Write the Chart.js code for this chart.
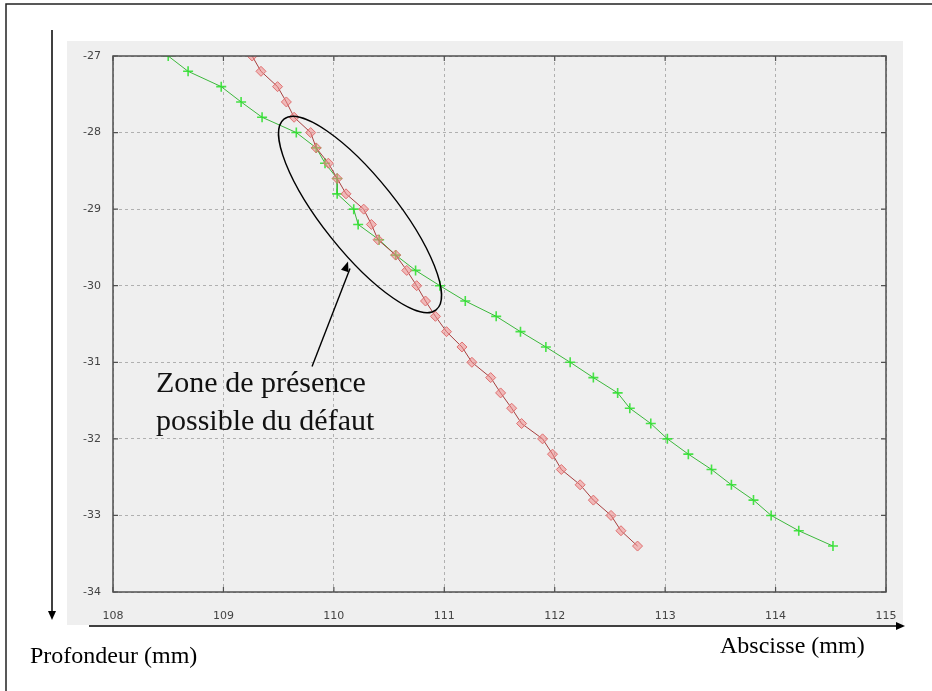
<!DOCTYPE html>
<html>
<head>
<meta charset="utf-8">
<script src="https://cdn.jsdelivr.net/npm/chart.js@4"></script>
<style>
  html, body { margin: 0; padding: 0; background: #ffffff; }
  #wrap { position: relative; width: 932px; height: 691px; }
  canvas { display: block; }
</style>
</head>
<body>
<div id="wrap"><canvas id="c" width="932" height="691"></canvas></div>
<script>
// Depth of each measurement (mm)
const depths = [-27, -27.2, -27.4, -27.6, -27.8, -28, -28.2, -28.4, -28.6, -28.8,
                -29, -29.2, -29.4, -29.6, -29.8, -30, -30.2, -30.4, -30.6, -30.8,
                -31, -31.2, -31.4, -31.6, -31.8, -32, -32.2, -32.4, -32.6, -32.8,
                -33, -33.2, -33.4];

// Abscissa of the red profile (mm)
const redX = [109.26, 109.34, 109.49, 109.57, 109.64, 109.79, 109.84, 109.95, 110.03, 110.11,
              110.27, 110.34, 110.40, 110.56, 110.66, 110.75, 110.83, 110.92, 111.02, 111.16,
              111.25, 111.42, 111.51, 111.61, 111.70, 111.89, 111.98, 112.06, 112.23, 112.35,
              112.51, 112.60, 112.75];

// Abscissa of the green profile (mm)
const greenX = [108.50, 108.68, 108.98, 109.16, 109.35, 109.66, 109.84, 109.92, 110.03, 110.03,
                110.18, 110.22, 110.41, 110.56, 110.74, 110.96, 111.19, 111.47, 111.69, 111.92,
                112.14, 112.35, 112.57, 112.68, 112.87, 113.02, 113.21, 113.42, 113.60, 113.80,
                113.96, 114.21, 114.52];

// Axis ranges and tick labels
const xTicks = [108, 109, 110, 111, 112, 113, 114, 115];
const yTicks = [-27, -28, -29, -30, -31, -32, -33, -34];

// Annotation: zone where the defect may lie
const zoneCenter = { x: 110.237, y: -29.07 };
const zoneLines = ['Zone de présence', 'possible du défaut'];
const xTitle = 'Abscisse (mm)';
const yTitle = 'Profondeur (mm)';

const toPoints = xs => xs.map((x, i) => ({ x: x, y: depths[i] }));

function arrowHead(ctx, x0, y0, x1, y1, len, half) {
  const a = Math.atan2(y1 - y0, x1 - x0);
  ctx.beginPath();
  ctx.moveTo(x1, y1);
  ctx.lineTo(x1 - len * Math.cos(a) + half * Math.sin(a), y1 - len * Math.sin(a) - half * Math.cos(a));
  ctx.lineTo(x1 - len * Math.cos(a) - half * Math.sin(a), y1 - len * Math.sin(a) + half * Math.cos(a));
  ctx.closePath();
  ctx.fill();
}

const decor = {
  id: 'decor',
  beforeDraw(chart) {
    const ctx = chart.ctx, ca = chart.chartArea;
    ctx.save();
    // grey panel behind the plot
    ctx.fillStyle = '#efefef';
    ctx.fillRect(ca.left - 46, ca.top - 15, (ca.right + 17) - (ca.left - 46), (ca.bottom + 33) - (ca.top - 15));
    // page frame
    ctx.strokeStyle = '#222';
    ctx.lineWidth = 1.5;
    ctx.beginPath();
    ctx.moveTo(6, 691);
    ctx.lineTo(6, 4);
    ctx.lineTo(932, 4);
    ctx.stroke();
    ctx.restore();
  },
  afterDraw(chart) {
    const ctx = chart.ctx, ca = chart.chartArea;
    const xs = chart.scales.x, ys = chart.scales.y;
    ctx.save();
    // plot frame
    ctx.strokeStyle = '#505050';
    ctx.lineWidth = 1.5;
    ctx.strokeRect(ca.left, ca.top, ca.right - ca.left, ca.bottom - ca.top);
    // inward tick marks on all four sides
    ctx.lineWidth = 1.2;
    ctx.beginPath();
    xTicks.forEach(v => {
      const px = xs.getPixelForValue(v);
      ctx.moveTo(px, ca.bottom); ctx.lineTo(px, ca.bottom - 5);
      ctx.moveTo(px, ca.top); ctx.lineTo(px, ca.top + 5);
    });
    yTicks.forEach(v => {
      const py = ys.getPixelForValue(v);
      ctx.moveTo(ca.left, py); ctx.lineTo(ca.left + 5, py);
      ctx.moveTo(ca.right, py); ctx.lineTo(ca.right - 5, py);
    });
    ctx.stroke();

    // axis arrows
    ctx.strokeStyle = '#000';
    ctx.fillStyle = '#000';
    ctx.lineWidth = 1.5;
    const vx = ca.left - 61, vTop = ca.top - 26, vBot = ca.bottom + 28;
    ctx.beginPath(); ctx.moveTo(vx, vTop); ctx.lineTo(vx, vBot - 6); ctx.stroke();
    arrowHead(ctx, vx, vTop, vx, vBot, 9, 4);
    const hy = ca.bottom + 34, hL = ca.left - 24, hR = ca.right + 19;
    ctx.beginPath(); ctx.moveTo(hL, hy); ctx.lineTo(hR - 6, hy); ctx.stroke();
    arrowHead(ctx, hL, hy, hR, hy, 9, 4);

    // axis titles
    ctx.font = '24px "Liberation Serif", "Times New Roman", serif';
    ctx.textBaseline = 'middle';
    ctx.textAlign = 'left';
    ctx.fillText(yTitle, 30, ca.bottom + 65);
    ctx.fillText(xTitle, 720, ca.bottom + 55);

    // ellipse around the zone
    const cx = xs.getPixelForValue(zoneCenter.x), cy = ys.getPixelForValue(zoneCenter.y);
    ctx.lineWidth = 1.4;
    ctx.beginPath();
    ctx.ellipse(cx, cy, 122, 37, 51.4 * Math.PI / 180, 0, Math.PI * 2);
    ctx.stroke();

    // pointer from the label to the ellipse
    const p0 = { x: cx - 48, y: cy + 152 }, p1 = { x: cx - 12, y: cy + 47 };
    ctx.beginPath(); ctx.moveTo(p0.x, p0.y); ctx.lineTo(p1.x + 2, p1.y + 7); ctx.stroke();
    arrowHead(ctx, p0.x, p0.y, p1.x, p1.y, 10, 4);

    // label of the zone
    ctx.font = '30px "Liberation Serif", "Times New Roman", serif';
    ctx.fillStyle = '#111';
    ctx.fillText(zoneLines[0], 156, cy + 170);
    ctx.fillText(zoneLines[1], 156, cy + 208);
    ctx.restore();
  }
};

new Chart(document.getElementById('c'), {
  type: 'scatter',
  data: {
    datasets: [
      {
        data: toPoints(redX),
        showLine: true,
        borderColor: '#a84040',
        borderWidth: 1,
        pointStyle: 'rectRot',
        pointRadius: 5,
        pointBackgroundColor: 'rgba(240,140,140,0.55)',
        pointBorderColor: '#e07070',
        pointBorderWidth: 1
      },
      {
        data: toPoints(greenX),
        showLine: true,
        borderColor: '#3cb83c',
        borderWidth: 1,
        pointStyle: 'cross',
        pointRadius: 5,
        pointBorderColor: 'rgba(40,225,40,0.85)',
        pointBorderWidth: 1.6
      }
    ]
  },
  options: {
    responsive: false,
    animation: false,
    devicePixelRatio: 1,
    events: [],
    layout: { padding: { left: 67, right: 46, top: 56, bottom: 65 } },
    plugins: { legend: { display: false }, tooltip: { enabled: false } },
    scales: {
      x: {
        type: 'linear',
        min: xTicks[0],
        max: xTicks[xTicks.length - 1],
        afterFit: s => { s.height = 34; },
        afterBuildTicks: s => { s.ticks = xTicks.map(v => ({ value: v })); },
        ticks: { padding: 18, color: '#444', font: { family: '"DejaVu Sans", sans-serif', size: 11 } },
        grid: { color: '#b0b0b0', drawTicks: false, lineWidth: 1 },
        border: { display: false, dash: [3, 3] }
      },
      y: {
        type: 'linear',
        min: yTicks[yTicks.length - 1],
        max: yTicks[0],
        afterFit: s => { s.width = 46; },
        afterBuildTicks: s => { s.ticks = yTicks.slice().reverse().map(v => ({ value: v })); },
        ticks: { padding: 12, color: '#444', font: { family: '"DejaVu Sans", sans-serif', size: 11 } },
        grid: { color: '#b0b0b0', drawTicks: false, lineWidth: 1 },
        border: { display: false, dash: [3, 3] }
      }
    }
  },
  plugins: [decor]
});
</script>
</body>
</html>
